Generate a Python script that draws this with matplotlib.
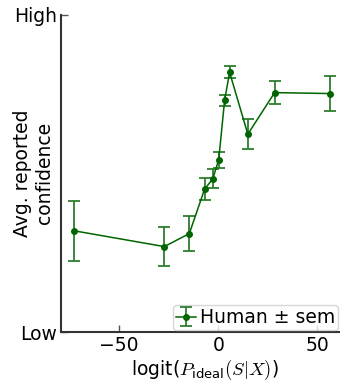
import numpy as np
import matplotlib.pyplot as plt

plt.rcParams['mathtext.fontset'] = 'cm'

# logit of ideal posterior vs. average reported confidence (0 = Low, 1 = High)
logit_p = [-72.9, -27.2, -14.6, -6.9, -2.8, 0.2, 3.2, 5.7, 14.9, 28.4, 56.3]
conf_mean = [0.319, 0.269, 0.310, 0.450, 0.482, 0.542, 0.730, 0.818, 0.623, 0.754, 0.751]
conf_sem = [0.095, 0.062, 0.055, 0.034, 0.030, 0.025, 0.017, 0.019, 0.047, 0.035, 0.055]

fs = 13.5

fig = plt.figure(figsize=(3.4, 3.88), dpi=100)
ax = fig.add_axes([61 / 340, 56 / 388, 287 / 340, 317.5 / 388])

ax.errorbar(logit_p, conf_mean, yerr=conf_sem, color='darkgreen', ecolor='#2e7d2e',
            marker='o', markersize=4, linewidth=1.1, elinewidth=1.3, capsize=4,
            capthick=1.3, label='Human ± sem')

ax.set_xlim(-79.3, 65.4)
ax.set_ylim(0, 1)
ax.set_yticks([0, 1])
ax.set_yticklabels(['Low', 'High'])
ax.set_xticks([-50, 0, 50])

ax.spines['top'].set_visible(False)
ax.spines['right'].set_visible(False)
for side in ['left', 'bottom']:
    ax.spines[side].set_linewidth(1.5)
    ax.spines[side].set_color('#333333')
ax.tick_params(direction='in', length=5, width=1, color='#555555', labelsize=fs, pad=3)

ax.set_xlabel('logit($P_{\\mathregular{ideal}}(S|X)$)', fontsize=fs, labelpad=2)
ax.set_ylabel('Avg. reported\nconfidence', fontsize=fs)
ax.yaxis.set_label_coords(-0.023, 0.5)

ax.legend(loc='lower left', bbox_to_anchor=(0.39, 0.006), fontsize=fs,
          handlelength=1.1, handletextpad=0.2, borderpad=0.15, borderaxespad=0)

fig.savefig('out.png', dpi=100)
